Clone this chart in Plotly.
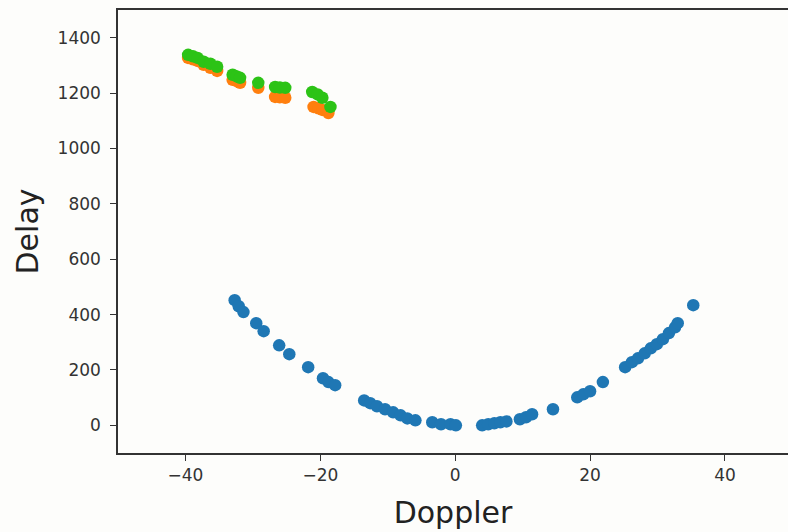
import plotly.graph_objects as go

# Blue series (parabola)
blue_doppler = [-32.7, -32.1, -31.4, -29.5, -28.4, -26.1, -24.6, -21.8, -19.6, -18.8, -17.8,
                -13.5, -12.6, -11.6, -10.4, -9.2, -8.1, -7.1, -5.9, -3.4, -2.1, -0.7, 0.1,
                4.0, 4.9, 5.8, 6.7, 7.6, 9.6, 10.5, 11.4, 14.5, 18.1, 19.0, 20.0, 21.9,
                25.2, 26.2, 27.1, 28.1, 29.0, 29.9, 30.8, 31.7, 32.6, 33.0, 35.3]
blue_delay = [452, 430, 409, 369, 340, 289, 257, 210, 170, 156, 145,
              90, 80, 69, 58, 47, 36, 25, 18, 11, 4, 4, 0,
              0, 4, 7, 11, 14, 22, 29, 40, 58, 101, 112, 123, 156,
              210, 228, 242, 260, 278, 293, 311, 333, 354, 369, 434]

# Orange series
orange_doppler = [-39.6, -38.9, -38.2, -37.3, -36.3, -35.3, -33.0, -32.4, -31.9, -29.2,
                  -26.7, -26.0, -25.2, -21.0, -20.3, -19.7, -18.8]
orange_delay = [1327, 1322, 1316, 1302, 1291, 1280, 1248, 1243, 1237, 1219,
                1186, 1185, 1183, 1150, 1145, 1139, 1128]

# Green series
green_doppler = [-39.6, -38.9, -38.2, -37.3, -36.3, -35.3, -33.0, -32.4, -31.9, -29.2,
                 -26.7, -26.0, -25.2, -21.2, -20.4, -19.7, -18.5]
green_delay = [1338, 1333, 1327, 1313, 1306, 1295, 1266, 1260, 1255, 1237,
               1222, 1220, 1219, 1204, 1195, 1183, 1150]

x_ticks = [-40, -20, 0, 20, 40]
y_ticks = [0, 200, 400, 600, 800, 1000, 1200, 1400]

fig = go.Figure()
for xs, ys, col in [(blue_doppler, blue_delay, "#1f77b4"),
                    (orange_doppler, orange_delay, "#ff7f0e"),
                    (green_doppler, green_delay, "#2cc316")]:
    fig.add_trace(go.Scatter(x=xs, y=ys, mode="markers",
                             marker=dict(size=12.5, color=col, line=dict(width=0)),
                             showlegend=False))

font_family = "DejaVu Sans"
fig.update_layout(
    width=788, height=532,
    margin=dict(l=118, r=0, t=10, b=79),
    paper_bgcolor="#fdfdfb", plot_bgcolor="#fdfdfb",
    font=dict(family=font_family, color="#333333"),
)
fig.update_xaxes(
    range=[-50, 49.35], tickvals=x_ticks, ticktext=["\u221240", "\u221220", "0", "20", "40"],
    showgrid=False, zeroline=False, showline=True, linecolor="#333333", linewidth=1.5,
    mirror=True, ticks="outside", ticklen=6, tickcolor="#333333",
    tickfont=dict(size=17, color="#333333"),
    title=dict(text="Doppler", font=dict(size=30, color="#222222"), standoff=18),
    automargin=False,
)
fig.update_yaxes(
    range=[-100, 1500], tickvals=y_ticks,
    showgrid=False, zeroline=False, showline=True, linecolor="#333333", linewidth=1.5,
    ticks="outside", ticklen=6, tickcolor="#333333", ticklabelstandoff=6,
    tickfont=dict(size=17, color="#333333"),
    title=dict(text="Delay", font=dict(size=30, color="#222222"), standoff=10),
    automargin=False,
)
fig.write_html("out.html")
